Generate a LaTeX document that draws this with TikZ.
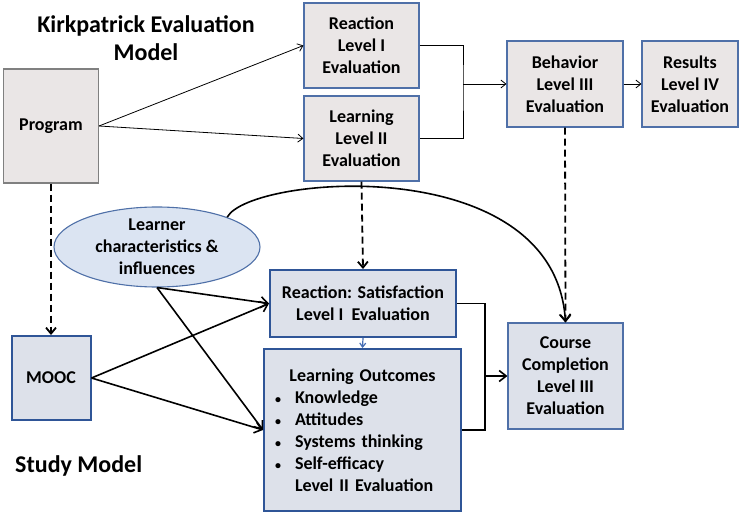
\documentclass[tikz,border=0pt]{standalone}
\usepackage{fontspec}
\setmainfont{Carlito}
\usetikzlibrary{arrows.meta,shapes.geometric}
\definecolor{topfill}{RGB}{234,230,230}
\definecolor{topline}{RGB}{79,112,168}
\definecolor{progline}{RGB}{128,128,128}
\definecolor{lowfill}{RGB}{221,225,234}
\definecolor{lowline}{RGB}{47,85,151}
\definecolor{ellfill}{RGB}{219,228,242}
\definecolor{smallarrow}{RGB}{70,110,180}
\newcommand{\itembul}{\makebox[25pt][l]{\hspace{5pt}{\fontsize{12}{12}\selectfont\textbullet}}}
\tikzset{
  boxtext/.style={font=\bfseries\fontsize{18}{22}\selectfont, align=center, inner sep=0pt},
  topbox/.style={boxtext, draw=topline, fill=topfill, line width=1.1pt},
  lowbox/.style={boxtext, draw=lowline, fill=lowfill, line width=2pt},
  heading/.style={font=\bfseries\fontsize{24}{28}\selectfont, align=center, inner sep=0pt},
  thinarrow/.style={line width=0.8pt, -{Straight Barb[length=5pt,width=8pt]}},
  thickarrow/.style={line width=1.6pt, -{Straight Barb[length=7pt,width=11pt]}},
  dasharrow/.style={line width=1.8pt, dash pattern=on 7pt off 4pt, -{Straight Barb[length=6pt,width=10pt]}},
}
\begin{document}
\begin{tikzpicture}[x=1pt,y=-1pt]
\useasboundingbox (0,0) rectangle (742,516);
\node[heading] (kirk) at (146,38) {Kirkpatrick Evaluation\\Model};
\node[heading, anchor=west] (study) at (15,466) {Study Model};
\node[topbox, draw=progline, minimum width=95pt, minimum height=114pt] (prog) at (51,126) {Program};
\node[topbox, minimum width=115pt, minimum height=85pt] (react) at (361.5,45.5) {Reaction\\Level I\\Evaluation};
\node[topbox, minimum width=115pt, minimum height=85pt] (learn) at (361.5,138.5) {Learning\\Level II\\Evaluation};
\node[topbox, minimum width=116pt, minimum height=86pt] (behav) at (565,84) {Behavior\\Level III\\Evaluation};
\node[topbox, minimum width=96pt, minimum height=86pt] (result) at (690,84) {Results\\Level IV\\Evaluation};
\node[boxtext, ellipse, draw=topline, fill=ellfill, line width=1.1pt, minimum width=206pt, minimum height=80pt] (learner) at (157,247) {Learner\\characteristics \&\\influences};
\node[lowbox, minimum width=79pt, minimum height=84pt] (mooc) at (51,378) {MOOC};
\node[lowbox, minimum width=186pt, minimum height=67pt] (rsat) at (363,303.5) {Reaction: Satisfaction\\Level I\ \ Evaluation};
\node[lowbox, minimum width=197pt, minimum height=162pt, text width=185pt, align=left] (lout) at (362.5,430) {\makebox[185pt]{Learning Outcomes}\\
  \itembul Knowledge\\
  \itembul Attitudes\\
  \itembul Systems thinking\\
  \itembul Self-efficacy\\
  \hspace*{25pt}Level II Evaluation};
\node[lowbox, draw=topline, line width=1.1pt, minimum width=115pt, minimum height=106pt] (course) at (565.5,376) {Course\\Completion\\Level III\\Evaluation};
\coordinate (jtop) at (463,84);
\coordinate (jlow) at (485,376);
\draw[thinarrow] (prog.east) -- (react.west);
\draw[thinarrow] (prog.east) -- (learn.west);
\draw[line width=0.8pt] (react.east) -| (jtop) |- (learn.east);
\draw[thinarrow] (jtop) -- (behav.west);
\draw[thinarrow] (behav.east) -- (result.west);
\draw[dasharrow] (prog.south) -- (mooc.north);
\draw[dasharrow] (learn.south) -- (rsat.north);
\draw[dasharrow] (behav.south) -- (course.north);
\draw[thickarrow] (learner.23) .. controls (250,175) and (555,150) .. (course.north);
\draw[thickarrow] (learner.south) -- (rsat.west);
\draw[thickarrow] (learner.south) -- (lout.west);
\draw[thickarrow] (mooc.east) -- (rsat.west);
\draw[thickarrow] (mooc.east) -- (lout.west);
\draw[line width=1.2pt, smallarrow, -{Straight Barb[length=4pt,width=6pt]}] (rsat.south) -- (lout.north);
\draw[line width=1.6pt] (rsat.east) -| (jlow) |- (lout.east);
\draw[thickarrow] (jlow) -- (course.west);
\end{tikzpicture}
\end{document}
